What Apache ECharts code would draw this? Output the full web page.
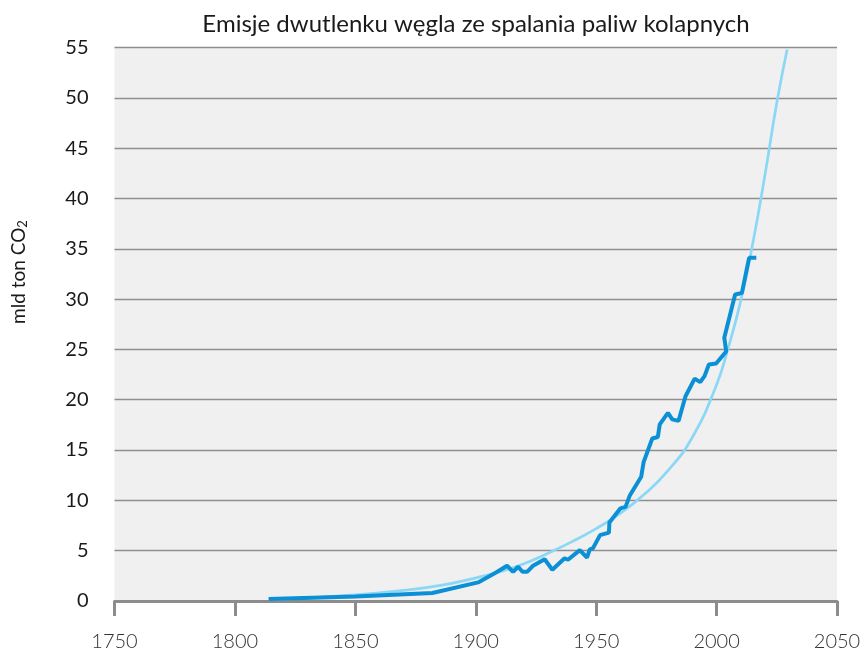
<!DOCTYPE html>
<html>
<head>
<meta charset="utf-8">
<script src="https://cdn.jsdelivr.net/npm/echarts@6/dist/echarts.min.js"></script>
<style>
  html, body { margin: 0; padding: 0; background: #fff; }
  #chart { width: 865px; height: 652px; }
</style>
</head>
<body>
<div id="chart"></div>
<script>
const titleText = 'Emisje dwutlenku węgla ze spalania paliw kolapnych'

// emisje roczne (rok, mld ton CO2)
const emisjeLata = [1814, 1850, 1882, 1901, 1908.6, 1913, 1915.5, 1917.6, 1919.4, 1921.3, 1923.8, 1928.6,
  1931.8, 1936.9, 1938.3, 1943.2, 1946.2, 1947.3, 1948.7, 1951.6, 1955.3, 1955.5, 1960, 1962.2, 1963.9,
  1968.7, 1969.7, 1973.3, 1975.6, 1976.4, 1979.8, 1981.6, 1984.2, 1987.1, 1990.9, 1993.2, 1995, 1996.8,
  1999.8, 2004, 2003.2, 2007.7, 2010.5, 2013.5, 2016.5]
const emisjeWartosci = [0.2, 0.45, 0.8, 1.85, 2.85, 3.5, 2.9, 3.4, 2.9, 2.9, 3.5, 4.15,
  3.1, 4.25, 4.1, 5.05, 4.3, 5.1, 5.25, 6.55, 6.8, 7.8, 9.2, 9.35, 10.45,
  12.35, 13.8, 16.15, 16.3, 17.55, 18.7, 18.05, 17.9, 20.35, 22.1, 21.75, 22.35, 23.5,
  23.6, 24.8, 26.15, 30.45, 30.6, 34.1, 34.1]

// krzywa trendu
const trendLata = [1814, 1820, 1830, 1840, 1850, 1860, 1870, 1880, 1890, 1900, 1910, 1920, 1930,
  1940, 1950, 1960, 1970, 1980, 1990, 2000, 2005, 2010, 2015, 2020, 2025, 2029.3]
const trendWartosci = [0.15, 0.2, 0.3, 0.45, 0.6, 0.8, 1.05, 1.35, 1.75, 2.3, 2.9, 3.7, 4.75,
  5.9, 7.2, 8.7, 10.6, 13.0, 16.3, 21.5, 25.3, 29.8, 35.5, 42.2, 49.5, 54.8]

const yTicks = { min: 0, max: 55, interval: 5 }
const xTicks = { min: 1750, max: 2050, interval: 50 }

const chart = echarts.init(document.getElementById('chart'))

const font = 'Lato, "Open Sans", sans-serif'

chart.setOption({
  animation: false,
  textStyle: { fontFamily: font },
  grid: {
    left: 114.5, right: 28, top: 47.5, bottom: 50,
    show: true, backgroundColor: '#f0f0f0', borderWidth: 0
  },
  graphic: [
    {
      type: 'text', x: 476, y: 24,
      style: { text: titleText, font: '24px ' + font, fill: '#1a1a1a', textAlign: 'center', textVerticalAlign: 'middle' }
    },
    {
      type: 'text', x: 19, y: 272, rotation: Math.PI / 2,
      style: {
        text: '{a|mld ton CO}{s|2}',
        textAlign: 'center', textVerticalAlign: 'middle',
        rich: {
          a: { fontSize: 19, fontFamily: font, fill: '#1a1a1a' },
          s: { fontSize: 13, fontFamily: font, fill: '#1a1a1a', padding: [8, 0, 0, 0] }
        }
      }
    }
  ],
  xAxis: {
    type: 'value',
    min: xTicks.min, max: xTicks.max, interval: xTicks.interval,
    axisLine: { show: true, lineStyle: { color: '#8c8c8c', width: 3 } },
    axisTick: { show: true, length: 15, lineStyle: { color: '#8c8c8c', width: 3 } },
    splitLine: { show: false },
    axisLabel: { margin: 31, fontSize: 20, fontWeight: 300, color: '#333', fontFamily: font, formatter: v => String(v) }
  },
  yAxis: {
    type: 'value',
    min: yTicks.min, max: yTicks.max, interval: yTicks.interval,
    axisLine: { show: false },
    axisTick: { show: false },
    splitLine: { lineStyle: { color: '#8f8f8f', width: 1.3 } },
    axisLabel: { margin: 26, fontSize: 20, color: '#1a1a1a', fontFamily: font }
  },
  series: [
    {
      type: 'line',
      data: trendLata.map((r, i) => [r, trendWartosci[i]]),
      smooth: true,
      showSymbol: false,
      lineStyle: { color: '#8ad7f6', width: 2.7 },
      z: 2
    },
    {
      type: 'line',
      data: emisjeLata.map((r, i) => [r, emisjeWartosci[i]]),
      showSymbol: false,
      lineStyle: { color: '#0b8fd5', width: 4 },
      z: 3
    }
  ]
})
</script>
</body>
</html>
